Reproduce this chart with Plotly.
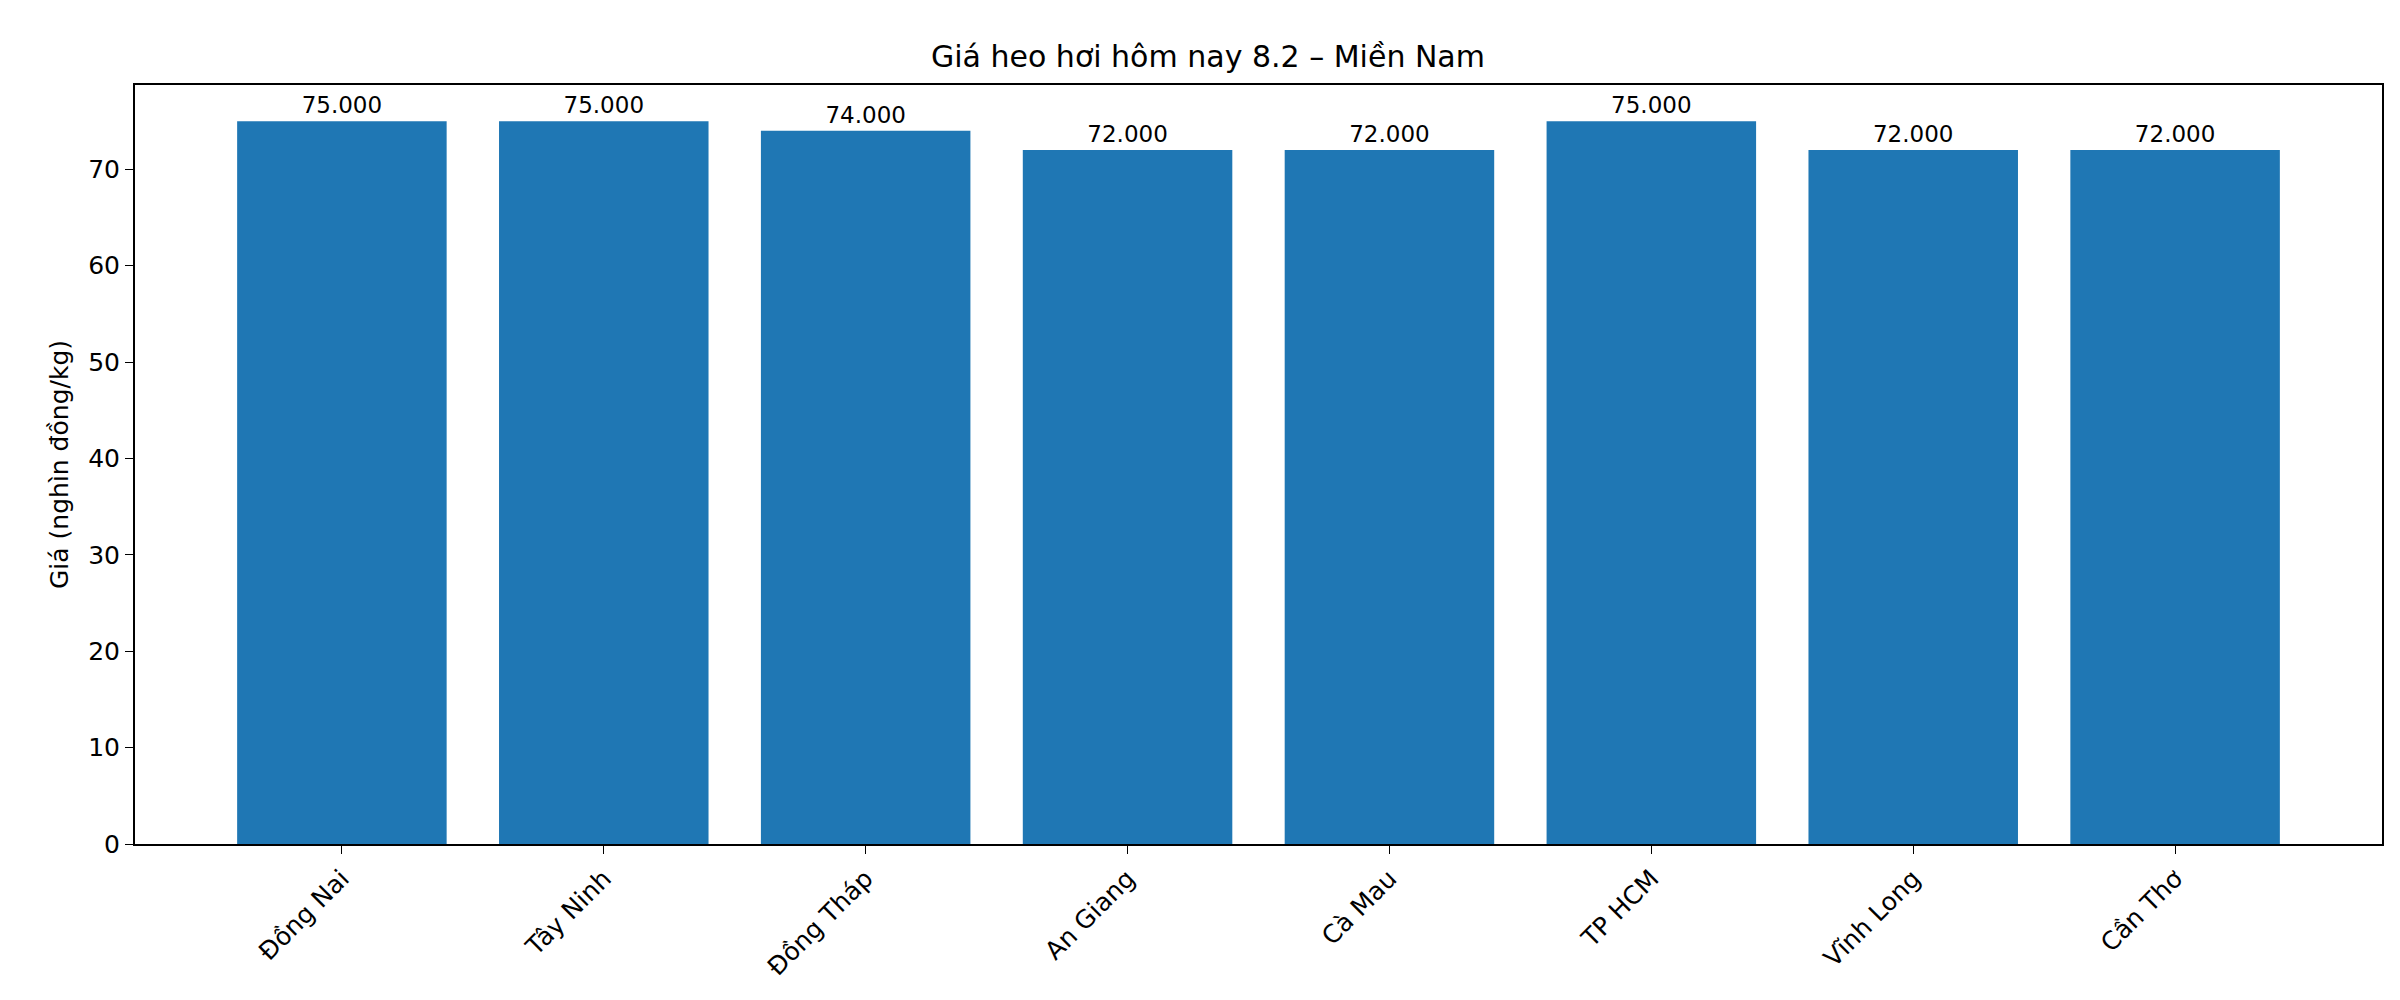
import plotly.graph_objects as go

regions = ["Đồng Nai", "Tây Ninh", "Đồng Tháp", "An Giang", "Cà Mau", "TP HCM", "Vĩnh Long", "Cần Thơ"]
prices = [75, 75, 74, 72, 72, 75, 72, 72]
labels = ["75.000", "75.000", "74.000", "72.000", "72.000", "75.000", "72.000", "72.000"]

fig = go.Figure(go.Bar(
    x=list(range(len(regions))), y=prices, width=0.8,
    marker=dict(color="#1f77b4", line=dict(width=0)),
    text=labels, textposition="outside", cliponaxis=False,
    textfont=dict(size=23, color="black"),
))

fig.update_layout(
    width=2400, height=1000,
    margin=dict(l=127, r=26, t=77, b=164),
    paper_bgcolor="white", plot_bgcolor="white",
    font=dict(family="DejaVu Sans", color="black"),
    title=dict(text="Giá heo hơi hôm nay 8.2 – Miền Nam", x=0.5, xanchor="center",
               y=1 - 48 / 1000, yanchor="middle", font=dict(size=30)),
    showlegend=False,
    uniformtext=dict(mode=False),
)
fig.update_xaxes(
    range=[-0.79, 7.79], tickmode="array", tickvals=list(range(len(regions))), ticktext=regions,
    tickangle=-45, tickfont=dict(size=25), ticks="outside", ticklen=8, tickcolor="black",
    showline=True, linecolor="black", linewidth=2, mirror=True, showgrid=False, zeroline=False,
)
fig.update_yaxes(
    range=[0, 78.75], dtick=10, tickfont=dict(size=25), ticks="outside", ticklen=8, tickcolor="black",
    showline=True, linecolor="black", linewidth=2, mirror=True, showgrid=False, zeroline=False,
    title=dict(text="Giá (nghìn đồng/kg)", font=dict(size=25), standoff=12),
)

fig.write_html("out.html")
